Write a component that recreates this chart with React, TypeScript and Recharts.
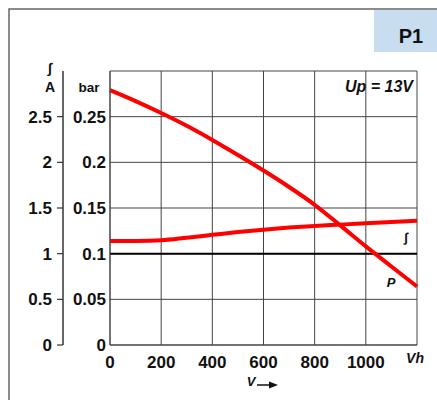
import { LineChart, Line, XAxis, YAxis, CartesianGrid, ReferenceLine } from 'recharts';

const FONT = '"Liberation Sans", Arial, sans-serif';

// flow rate (l/h) sample points
const flow = [0, 100, 200, 300, 400, 500, 600, 700, 800, 900, 1000, 1100, 1200];
// pressure P in bar
const pressureBar = [0.279, 0.267, 0.254, 0.24, 0.2245, 0.208, 0.191, 0.173, 0.1535, 0.131, 0.108, 0.086, 0.064];
// current draw in A
const currentA = [1.139, 1.14, 1.147, 1.175, 1.206, 1.237, 1.263, 1.286, 1.304, 1.318, 1.332, 1.346, 1.36];

const flowTicks = [0, 200, 400, 600, 800, 1000, 1200];
const barTicks = [0, 0.05, 0.1, 0.15, 0.2, 0.25, 0.3];
const ampTicks = [0, 0.5, 1, 1.5, 2, 2.5];

// axis ids: the bar axis sits next to the plot, the amp axis outside it
const BAR = 0;
const AMP = 1;

const tickStyle = { fill: '#111', fontSize: 17, fontWeight: 700, fontFamily: FONT };

function FlowTick({ x, y, payload }: any) {
  if (payload.value === 1200) {
    return (
      <text x={x - 2} y={y} dy={7} textAnchor="middle" fill="#111" fontSize={14} fontWeight={700} fontStyle="italic" fontFamily={FONT}>
        Vh
      </text>
    );
  }
  return (
    <text x={x} y={y} dy="0.71em" textAnchor="middle" {...tickStyle}>
      {payload.value}
    </text>
  );
}

export default function App() {
  const data = flow.map((v, i) => ({ flow: v, pressure: pressureBar[i], current: currentA[i] }));

  return (
    <div style={{ position: 'absolute', left: 0, top: 0, width: 437, height: 400, overflow: 'hidden', background: '#fff', fontFamily: FONT }}>
      <LineChart width={437} height={400} data={data} margin={{ top: 71, right: 20, bottom: 25, left: 0 }}>
        <CartesianGrid yAxisId={BAR} stroke="#444" strokeWidth={1} />
        <XAxis
          dataKey="flow"
          type="number"
          domain={[0, 1200]}
          ticks={flowTicks}
          height={30}
          tickLine={false}
          tickSize={0}
          tickMargin={11}
          axisLine={{ stroke: '#444' }}
          tick={<FlowTick />}
        />
        <YAxis
          yAxisId={BAR}
          type="number"
          domain={[0, 0.3]}
          ticks={barTicks}
          width={47}
          tickLine={false}
          tickSize={0}
          tickMargin={4}
          axisLine={{ stroke: '#444' }}
          tick={tickStyle}
          tickFormatter={(v: number) => (v === 0.3 ? '' : String(v))}
        />
        <YAxis
          yAxisId={AMP}
          type="number"
          domain={[0, 3]}
          ticks={ampTicks}
          width={63}
          tickSize={6}
          tickMargin={5}
          axisLine={{ stroke: '#333', strokeWidth: 1.5 }}
          tickLine={{ stroke: '#333', strokeWidth: 1.2 }}
          tick={tickStyle}
          tickFormatter={(v: number) => String(v)}
        />
        <ReferenceLine yAxisId={BAR} y={0.1} stroke="#000" strokeWidth={2} />
        <Line
          yAxisId={BAR}
          type="monotone"
          dataKey="pressure"
          stroke="#ff0000"
          strokeWidth={4}
          dot={false}
          isAnimationActive={false}
        />
        <Line
          yAxisId={AMP}
          type="monotone"
          dataKey="current"
          stroke="#ff0000"
          strokeWidth={4}
          dot={false}
          isAnimationActive={false}
        />
      </LineChart>

      {/* frame, title badge and annotations */}
      <svg width={437} height={400} style={{ position: 'absolute', left: 0, top: 0, pointerEvents: 'none' }}>
        <rect x={9} y={9} width={600} height={600} fill="none" stroke="#666" strokeWidth={1.5} />
        <rect x={374} y={10} width={70} height={42} fill="#C9DDF1" />
        <text x={411} y={43} textAnchor="middle" fontSize={20} fontWeight={700} fill="#111" fontFamily={FONT}>P1</text>
        <text x={50} y={73} textAnchor="middle" fontSize={14} fontWeight={700} fill="#111" fontFamily={FONT}>∫</text>
        <text x={50} y={92} textAnchor="middle" fontSize={14} fontWeight={700} fill="#111" fontFamily={FONT}>A</text>
        <text x={89} y={92} textAnchor="middle" fontSize={13.5} fontWeight={700} fill="#111" fontFamily={FONT}>bar</text>
        <text x={413} y={92} textAnchor="end" fontSize={16} fontWeight={700} fontStyle="italic" fill="#111" fontFamily={FONT}>Up = 13V</text>
        <text x={406} y={242} textAnchor="middle" fontSize={13} fontWeight={700} fontStyle="italic" fill="#111" fontFamily={FONT}>∫</text>
        <text x={391} y={287} textAnchor="middle" fontSize={13} fontWeight={700} fontStyle="italic" fill="#111" fontFamily={FONT}>P</text>
        <text x={251} y={386} textAnchor="middle" fontSize={13} fontWeight={700} fontStyle="italic" fill="#111" fontFamily={FONT}>V</text>
        <line x1={257} y1={385} x2={271} y2={385} stroke="#111" strokeWidth={1.5} />
        <polygon points="269,381.5 278,385 269,388.5" fill="#111" />
      </svg>
    </div>
  );
}
